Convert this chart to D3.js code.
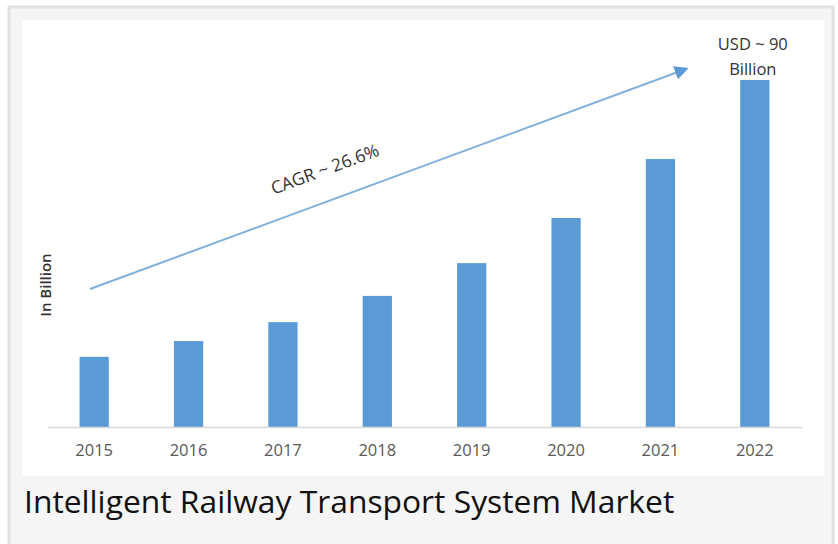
<!DOCTYPE html>
<html><head><meta charset="utf-8">
<script src="https://cdn.jsdelivr.net/npm/d3@7"></script>
<style>
html,body{margin:0;padding:0;background:#fff;}
svg{display:block;}
</style></head>
<body>
<script>
const years = ["2015","2016","2017","2018","2019","2020","2021","2022"];
const values = [18.2, 22.3, 27.2, 34.0, 42.5, 54.2, 69.5, 90];
const cagrLabel = "CAGR ~ 26.6%";
const endLabel = ["USD ~ 90", "Billion"];
const yTitle = "In Billion";
const title = "Intelligent Railway Transport System Market";

const W = 838, H = 544;
const svg = d3.select("body").append("svg").attr("width", W).attr("height", H);

// outer frame
svg.append("rect").attr("x", 9).attr("y", 7).attr("width", 824).attr("height", 540)
  .attr("fill", "#f5f5f5").attr("stroke", "#e2e2e2").attr("stroke-width", 3);
// inner white panel
svg.append("rect").attr("x", 22).attr("y", 20).attr("width", 802).attr("height", 456).attr("fill", "#fff");

const x = d3.scaleBand().domain(years).range([47, 802]).paddingInner(0.69).paddingOuter(0.345);
const y = d3.scaleLinear().domain([0, 90]).range([427, 80]);

svg.selectAll("rect.bar").data(values).enter().append("rect").attr("class", "bar")
  .attr("x", (d, i) => x(years[i])).attr("width", x.bandwidth())
  .attr("y", d => y(d)).attr("height", d => y(0) - y(d))
  .attr("fill", "#5b9bd5");

const xAxis = svg.append("g").attr("transform", `translate(0,${y(0)})`)
  .call(d3.axisBottom(x).tickSize(0).tickPadding(17));
xAxis.select(".domain").attr("stroke", "#d9d9d9").attr("stroke-width", 1.5);
xAxis.selectAll("text").attr("font-family", "Open Sans").attr("font-size", 16.5).attr("fill", "#595959");

svg.append("text").attr("transform", "translate(51,285) rotate(-90)")
  .attr("text-anchor", "middle").attr("font-family", "Open Sans").attr("font-weight", "600")
  .attr("font-size", 15).attr("fill", "#333").text(yTitle);

// arrow
const defs = svg.append("defs");
defs.append("marker").attr("id", "ah").attr("viewBox", "0 0 10 10").attr("refX", 8).attr("refY", 5)
  .attr("markerWidth", 7).attr("markerHeight", 7).attr("orient", "auto")
  .append("path").attr("d", "M0,0 L10,5 L0,10 Z").attr("fill", "#5b9bd5");
svg.append("line").attr("x1", 90).attr("y1", 289).attr("x2", 686).attr("y2", 69)
  .attr("stroke", "#7fb0dc").attr("stroke-width", 2).attr("marker-end", "url(#ah)");

const ang = Math.atan2(69 - 289, 686 - 90) * 180 / Math.PI;
svg.append("text").attr("transform", `translate(327,175) rotate(${ang})`)
  .attr("text-anchor", "middle").attr("font-family", "Open Sans")
  .attr("font-size", 17.5).attr("fill", "#333").text(cagrLabel);

svg.selectAll("text.end").data(endLabel).enter().append("text").attr("class", "end")
  .attr("x", x("2022") + x.bandwidth() / 2 - 2).attr("y", (d, i) => 50 + i * 25)
  .attr("text-anchor", "middle").attr("font-family", "Open Sans")
  .attr("font-size", 16.5).attr("fill", "#333").text(d => d);

svg.append("text").attr("x", 24).attr("y", 513).attr("font-family", "Open Sans")
  .attr("font-size", 31.8).attr("fill", "#111").text(title);
</script>
</body></html>
